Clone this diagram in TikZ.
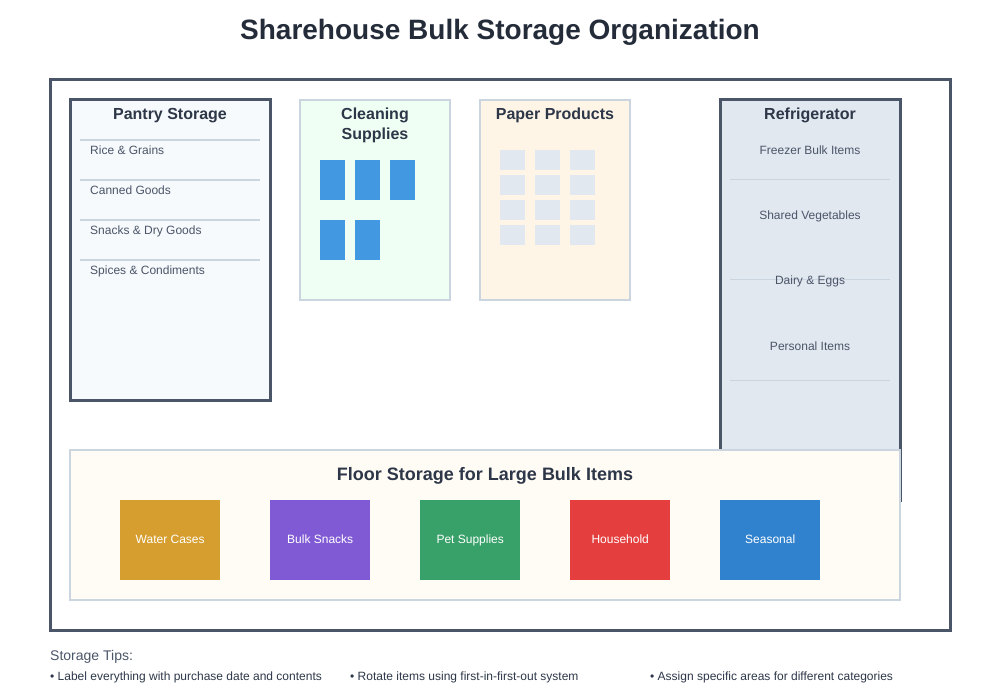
\documentclass[tikz,border=0pt]{standalone}
\usepackage{fontspec}
\setmainfont{Liberation Sans}
\definecolor{frame}{HTML}{4A5568}
\definecolor{soft}{HTML}{CBD5E0}
\definecolor{ink}{HTML}{2D3748}
\definecolor{txt}{HTML}{4A5568}
\definecolor{pantryfill}{HTML}{F7FAFC}
\definecolor{cleanfill}{HTML}{F0FFF4}
\definecolor{paperfill}{HTML}{FEF5E7}
\definecolor{fridgefill}{HTML}{E2E8F0}
\definecolor{floorfill}{HTML}{FFFAF0}
\definecolor{bottle}{HTML}{4299E1}
\definecolor{roll}{HTML}{E2E8F0}
\tikzset{
  zone/.style={draw=soft,line width=2pt},
  heavyzone/.style={draw=frame,line width=3pt},
  zonetitle/.style={font=\bfseries\fontsize{16}{20}\selectfont,text=ink,align=center,anchor=base},
  shelftext/.style={font=\fontsize{12}{14}\selectfont,text=txt,inner sep=0pt,anchor=base},
  shelfline/.style={draw=soft,line width=2pt},
  bin/.style={minimum width=100pt,minimum height=80pt,inner sep=0pt,
    font=\fontsize{12}{14}\selectfont,text=white,anchor=north west,
    text height=0.72em,text depth=0pt},
  tiptext/.style={font=\fontsize{12}{14}\selectfont,text=ink,anchor=base west,inner sep=0pt}
}
\begin{document}
\begin{tikzpicture}[x=1pt,y=-1pt]
	\useasboundingbox (0,0) rectangle (1000,700);
	\node[font=\bfseries\fontsize{28}{33}\selectfont,text=ink!80!black,anchor=base] (title) at (500,40) {Sharehouse Bulk Storage Organization};
	% house outline
	\draw[draw=frame,line width=3pt,fill=white] (50,80) rectangle (950,630);
	% pantry
	\draw[heavyzone,fill=pantryfill] (70,100) rectangle (270,400);
	\node[zonetitle] (pantry) at (170,120) {Pantry Storage};
	\foreach \y/\name in {140/Rice \& Grains,180/Canned Goods,220/Snacks \& Dry Goods,260/Spices \& Condiments}{
		\draw[shelfline] (80,\y) -- (260,\y);
		\node[shelftext,anchor=base west] at (90,\y+15) {\name};
	}
	% cleaning supplies
	\draw[zone,fill=cleanfill] (300,100) rectangle (450,300);
	\node[zonetitle] (cleaning) at (375,140) {Cleaning\\Supplies};
	\foreach \x/\y in {320/160,355/160,390/160,320/220,355/220}
		\fill[bottle] (\x,\y) rectangle ++(25,40);
	% paper products
	\draw[zone,fill=paperfill] (480,100) rectangle (630,300);
	\node[zonetitle] (paper) at (555,120) {Paper Products};
	\foreach \x in {500,535,570}
		\foreach \y in {150,175,200,225}
			\fill[roll] (\x,\y) rectangle ++(25,20);
	% refrigerator
	\draw[heavyzone,fill=fridgefill] (720,100) rectangle (900,500);
	\node[zonetitle] (fridge) at (810,120) {Refrigerator};
	\foreach \y in {180,280,380}
		\draw[draw=soft,line width=1pt] (730,\y) -- (890,\y);
	\foreach \y/\name in {155/Freezer Bulk Items,220/Shared Vegetables,285/Dairy \& Eggs,350/Personal Items}
		\node[shelftext] at (810,\y) {\name};
	% floor storage
	\draw[zone,fill=floorfill!60!white] (70,450) rectangle (900,600);
	\node[zonetitle,font=\bfseries\fontsize{18}{22}\selectfont] (floor) at (485,480.5) {Floor Storage for Large Bulk Items};
	\foreach \x/\col/\name in {120/D69E2E/Water Cases,270/805AD5/Bulk Snacks,420/38A169/Pet Supplies,570/E53E3E/Household,720/3182CE/Seasonal}{
		\definecolor{bincol}{HTML}{\col}
		\node[bin,fill=bincol] (bin\x) at (\x,500) {\name};
	}
	% tips
	\node[tiptext,text=txt,font=\fontsize{14}{17}\selectfont] (tips) at (50,660) {Storage Tips:};
	\node[tiptext] (tip1) at (50,680) {• Label everything with purchase date and contents};
	\node[tiptext] (tip2) at (350,680) {• Rotate items using first-in-first-out system};
	\node[tiptext] (tip3) at (650,680) {• Assign specific areas for different categories};
\end{tikzpicture}
\end{document}
